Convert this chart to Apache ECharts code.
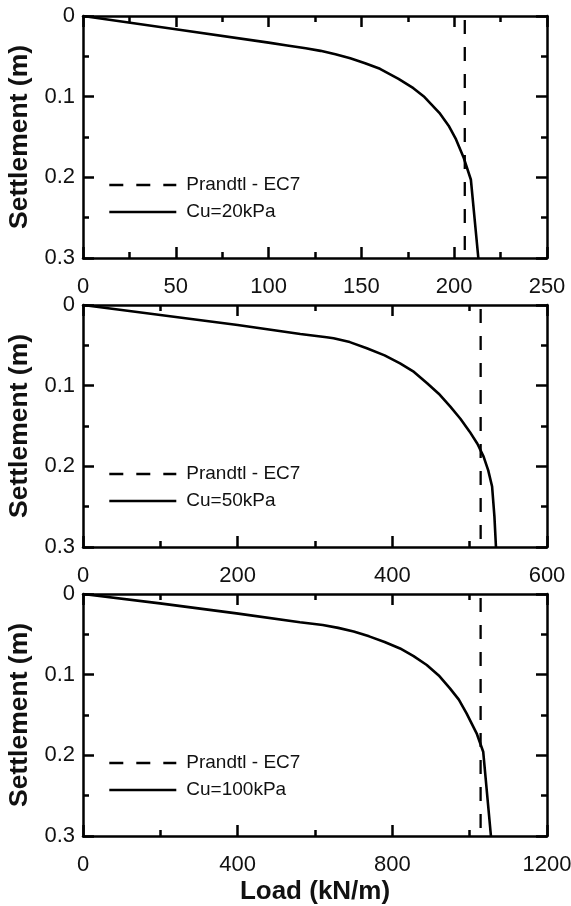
<!DOCTYPE html>
<html>
<head>
<meta charset="utf-8">
<script src="https://cdn.jsdelivr.net/npm/echarts@6/dist/echarts.min.js"></script>
<style>
  html, body { margin: 0; padding: 0; background: #fff; }
  #chart { width: 571px; height: 906px; }
</style>
</head>
<body>
<div id="chart"></div>
<script>
// Load–settlement curves for three undrained shear strengths
const prandtlName = 'Prandtl - EC7';
const cuNames = ['Cu=20kPa', 'Cu=50kPa', 'Cu=100kPa'];

// x-axis extents and label steps per panel (kN/m)
const loadMax = [250, 600, 1200];
const loadStep = [50, 200, 400];

// y-axis labels (m)
const settlementTicks = ['0', '0.1', '0.2', '0.3'];

// Cu = 20 kPa
const load20 = [0, 50, 100, 110, 120, 128, 136, 144, 152, 160, 170, 178, 184, 192, 197, 201, 205, 209, 213];
const settle20 = [0, 0.0165, 0.033, 0.0365, 0.040, 0.0432, 0.0475, 0.0525, 0.0585, 0.0655, 0.078, 0.0895, 0.1005, 0.120, 0.136, 0.153, 0.175, 0.203, 0.300];

// Cu = 50 kPa
const load50 = [0, 100, 200, 281, 315, 324, 345, 367, 390, 410, 428, 445, 460, 475, 488, 500, 510, 518, 524, 529, 532, 534];
const settle50 = [0, 0.0124, 0.0248, 0.036, 0.040, 0.0413, 0.046, 0.0537, 0.0625, 0.0723, 0.083, 0.097, 0.110, 0.126, 0.141, 0.157, 0.172, 0.188, 0.205, 0.225, 0.262, 0.300];

// Cu = 100 kPa
const load100 = [0, 199, 397, 561, 620, 660, 700, 740, 780, 820, 855, 889, 920, 949, 972, 992, 1018, 1035, 1055];
const settle100 = [0, 0.0116, 0.024, 0.035, 0.0385, 0.042, 0.0465, 0.0525, 0.0595, 0.0675, 0.077, 0.088, 0.101, 0.117, 0.131, 0.148, 0.1727, 0.1955, 0.300];

// Prandtl bearing capacity (EC7) for each Cu
const prandtlLoad = [205.7, 514.2, 1028.3];

const curves = [
  [load20, settle20],
  [load50, settle50],
  [load100, settle100]
];

const panelTop = [16, 305, 594];
const FONT = '"Liberation Sans", Arial, Helvetica, sans-serif';
const AXIS_W = 2.5;

const axisLine = { show: true, onZero: false, lineStyle: { color: '#000', width: AXIS_W } };
const majorTick = { show: true, inside: true, length: 11, lineStyle: { color: '#000', width: AXIS_W } };
const minorTick = { show: true, splitNumber: 2, length: 6, lineStyle: { color: '#000', width: AXIS_W } };

const grids = [], xAxes = [], yAxes = [], series = [], legends = [];

for (let i = 0; i < 3; i++) {
  grids.push({ left: 83, top: panelTop[i], width: 464, height: 242, containLabel: false, outerBoundsMode: 'none' });

  // bottom axis with labels
  xAxes.push({
    type: 'value', gridIndex: i, position: 'bottom',
    min: 0, max: loadMax[i], interval: loadStep[i],
    axisLine: axisLine, axisTick: majorTick, minorTick: minorTick,
    splitLine: { show: false }, minorSplitLine: { show: false },
    axisLabel: {
      show: true, color: '#111', fontSize: 22, fontFamily: FONT, margin: 18,
      hideOverlap: false, formatter: function (v) { return String(v); }
    },
    name: i === 2 ? 'Load (kN/m)' : '',
    nameLocation: 'middle', nameGap: 43,
    nameTextStyle: { color: '#111', fontSize: 26, fontWeight: 'bold', fontFamily: FONT }
  });
  // top mirror axis
  xAxes.push({
    type: 'value', gridIndex: i, position: 'top',
    min: 0, max: loadMax[i], interval: loadStep[i],
    axisLine: axisLine, axisTick: majorTick, minorTick: minorTick,
    splitLine: { show: false }, minorSplitLine: { show: false },
    axisLabel: { show: false }
  });
  // left axis with labels
  yAxes.push({
    type: 'value', gridIndex: i, position: 'left', inverse: true,
    min: 0, max: 0.3, interval: 0.1,
    axisLine: axisLine, axisTick: majorTick, minorTick: minorTick,
    splitLine: { show: false }, minorSplitLine: { show: false },
    axisLabel: {
      show: true, color: '#111', fontSize: 22, fontFamily: FONT, margin: 8,
      formatter: function (v) { return settlementTicks[Math.round(v * 10)]; }
    },
    name: 'Settlement (m)', nameLocation: 'middle', nameGap: 42,
    nameTextStyle: { color: '#111', fontSize: 26.5, fontWeight: 'bold', fontFamily: FONT }
  });
  // right mirror axis
  yAxes.push({
    type: 'value', gridIndex: i, position: 'right', inverse: true,
    min: 0, max: 0.3, interval: 0.1,
    axisLine: axisLine, axisTick: majorTick, minorTick: minorTick,
    splitLine: { show: false }, minorSplitLine: { show: false },
    axisLabel: { show: false }
  });

  series.push({
    name: prandtlName, type: 'line',
    xAxisIndex: i * 2, yAxisIndex: i * 2,
    data: [[prandtlLoad[i], 0], [prandtlLoad[i], 0.3]],
    symbol: 'none', silent: true,
    lineStyle: { color: '#000', width: 2.3, type: [14, 13], dashOffset: -4 },
    itemStyle: { color: '#000' }
  });

  const [lx, ly] = curves[i];
  series.push({
    name: cuNames[i], type: 'line',
    xAxisIndex: i * 2, yAxisIndex: i * 2,
    data: lx.map((x, k) => [x, ly[k]]),
    symbol: 'none', silent: true, smooth: false,
    lineStyle: { color: '#000', width: 2.6 },
    itemStyle: { color: '#000' }
  });

  legends.push({
    orient: 'vertical', left: 108, top: panelTop[i] + 169 - 9.5,
    itemWidth: 67, itemHeight: 19, itemGap: 8,
    selectedMode: false,
    data: [prandtlName, cuNames[i]],
    itemStyle: { opacity: 0 },
    lineStyle: { width: 2.6, dashOffset: 0 },
    textStyle: { color: '#111', fontSize: 19, fontFamily: FONT, padding: [0, 0, 0, 5] },
    padding: 0
  });
}

const chart = echarts.init(document.getElementById('chart'), null, { renderer: 'canvas' });
chart.setOption({
  animation: false,
  backgroundColor: '#fff',
  grid: grids,
  xAxis: xAxes,
  yAxis: yAxes,
  legend: legends,
  series: series
});
</script>
</body>
</html>
